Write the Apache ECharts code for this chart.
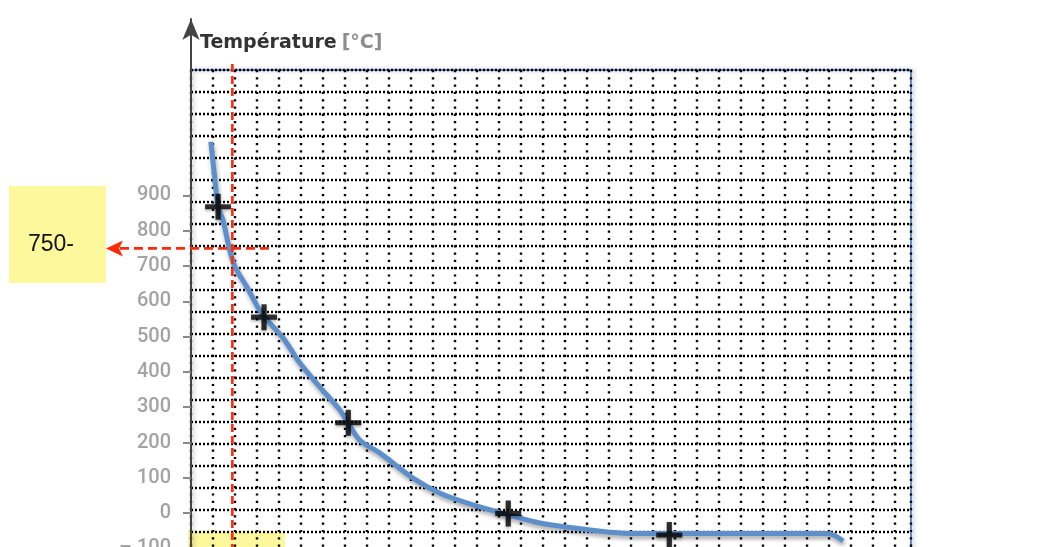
<!DOCTYPE html>
<html><head><meta charset="utf-8">
<script src="https://cdn.jsdelivr.net/npm/echarts@6/dist/echarts.min.js"></script>
<style>html,body{margin:0;padding:0;background:#fff}#c{width:1048px;height:547px}</style>
</head><body><div id="c"></div>
<script>
// Cooling curve (x in grid-paper cells, temperature in °C)
const curveX = [0.90, 1.09, 1.23, 1.45, 1.74, 2.00, 2.53, 3.21, 4.20, 4.95, 5.86, 6.77, 7.14, 7.68, 8.59, 10.09, 11.32, 12.82, 14.41, 15.86, 18.14, 19.64, 21.18, 25.86, 28.95, 29.64];
const curveT = [1052, 944, 868, 831, 750, 698, 642, 566, 495, 425, 357, 292, 255, 206, 170, 99, 56, 23, -5, -28, -48, -57, -58, -58, -58, -79];
// Measured points (crosses)
const crossX = [1.23, 3.32, 7.15, 14.42, 21.74];
const crossT = [868, 555, 256, -1, -62];
// Temperature scale
const tempMin = -300, tempLabelMax = 900, tempAxisMax = 1400, tempStep = 100;
// Paper grid size (cells)
const paperCols = 32.727, paperRows = 22;
// Reading annotation
const readX = 1.88, readT = 750, readXEnd = 3.73;
const noteText = '750-';
const titleMain = 'Température', titleUnit = '[°C]';

const pxPer100 = 35.294;
const zeroY = 513.1;
const dataTop = zeroY - (tempAxisMax / 100) * pxPer100;
const dataHeight = ((tempAxisMax - tempMin) / 100) * pxPer100;
const scaleTop = zeroY - (tempLabelMax / 100) * pxPer100;
const scaleHeight = ((tempLabelMax - tempMin) / 100) * pxPer100;

const chart = echarts.init(document.getElementById('c'), null, {renderer: 'canvas'});
const red = '#ff2a0a';
const option = {
  animation: false,
  title: {
    text: '{a|' + titleMain + '} {b|' + titleUnit + '}',
    left: 200, top: 34, padding: 0,
    textStyle: {
      rich: {
        a: {fontFamily: '"DejaVu Sans", sans-serif', fontSize: 19, fontWeight: 'bold', color: '#333'},
        b: {fontFamily: '"DejaVu Sans", sans-serif', fontSize: 19, color: '#8c8c8c'}
      }
    }
  },
  grid: [
    {left: 191, right: 137, top: 70, height: paperRows * 22, outerBoundsMode: 'none', containLabel: false, show: true, borderColor: '#5b8fd0', borderWidth: 2, backgroundColor: 'transparent', shadowColor: 'rgba(0,0,0,0.25)', shadowBlur: 4, shadowOffsetX: 2},
    {left: 191, right: 137, top: dataTop, height: dataHeight, outerBoundsMode: 'none', containLabel: false},
    {left: 191, right: 137, top: scaleTop, height: scaleHeight, outerBoundsMode: 'none', containLabel: false}
  ],
  xAxis: [
    {gridIndex: 0, type: 'value', min: 0, max: paperCols, interval: 1, axisLine: {show: false}, axisTick: {show: false}, axisLabel: {show: false},
      splitLine: {show: true, lineStyle: {color: '#000', width: 2.4, type: [2.2, 5.1]}}},
    {gridIndex: 1, type: 'value', min: 0, max: paperCols, show: false},
    {gridIndex: 2, type: 'value', min: 0, max: paperCols, show: false}
  ],
  yAxis: [
    {gridIndex: 0, type: 'value', inverse: true, min: 0, max: paperRows, interval: 1, axisLine: {show: false}, axisTick: {show: false}, axisLabel: {show: false},
      splitLine: {show: true, lineStyle: {color: '#000', width: 2.4, type: [2, 2]}}},
    {gridIndex: 1, type: 'value', min: tempMin, max: tempAxisMax, position: 'left', offset: 3,
      axisLine: {show: true, symbol: ['none', 'arrow'], symbolSize: [13, 21], lineStyle: {color: '#444', width: 2}},
      axisTick: {show: false}, axisLabel: {show: false}, splitLine: {show: false}},
    {gridIndex: 2, type: 'value', min: tempMin, max: tempLabelMax, interval: tempStep, position: 'left', offset: 3,
      axisLine: {show: false},
      axisTick: {show: true, length: 8, lineStyle: {color: '#8a8a8a', width: 2}},
      axisLabel: {show: true, margin: 17, fontFamily: 'Roboto, sans-serif', fontSize: 20, fontWeight: 500, color: '#a3a3a3',
        formatter: v => v < 0 ? '– ' + Math.abs(v) : String(v)},
      splitLine: {show: false}}
  ],
  series: [
    {type: 'line', xAxisIndex: 1, yAxisIndex: 1, data: curveX.map((x, i) => [x, curveT[i]]),
      smooth: 0.3, symbol: 'none', z: 3,
      lineStyle: {color: '#5d8fca', width: 5, shadowColor: 'rgba(0,0,0,0.35)', shadowBlur: 4, shadowOffsetX: 1, shadowOffsetY: 3}},
    {type: 'scatter', xAxisIndex: 1, yAxisIndex: 1, data: crossX.map((x, i) => [x, crossT[i]]), z: 4,
      symbol: 'path://M10,0H15V10H25V15H15V25H10V15H0V10H10Z', symbolSize: 26,
      itemStyle: {color: '#000', shadowColor: 'rgba(0,0,0,0.3)', shadowBlur: 3, shadowOffsetY: 2}}
  ]
};
chart.setOption(option);

const p = chart.convertToPixel({xAxisIndex: 1, yAxisIndex: 1}, [readX, readT]);
const pEnd = chart.convertToPixel({xAxisIndex: 1, yAxisIndex: 1}, [readXEnd, readT]);
chart.setOption({
  graphic: [
    {type: 'rect', z: -10, shape: {x: 188, y: 531, width: 97, height: 40}, style: {fill: '#fdf89c'}},
    {type: 'line', z: 50, shape: {x1: p[0], y1: 64, x2: p[0], y2: 560}, style: {stroke: red, lineWidth: 2.6, lineDash: [8, 4]}},
    {type: 'line', z: 50, shape: {x1: 120, y1: p[1], x2: pEnd[0], y2: p[1]}, style: {stroke: red, lineWidth: 2.6, lineDash: [9, 5]}},
    {type: 'polygon', z: 50, shape: {points: [[106, p[1]], [123, p[1] - 8], [119, p[1]], [123, p[1] + 8]]}, style: {fill: red}},
    {type: 'rect', z: 40, shape: {x: 9, y: 186, width: 97, height: 97}, style: {fill: '#fdf89c'}},
    {type: 'text', z: 41, x: 28, y: 245, style: {text: noteText, fontFamily: '"Liberation Sans", Arial, sans-serif', fontSize: 23, fill: '#111', verticalAlign: 'middle'}}
  ]
});
</script></body></html>
